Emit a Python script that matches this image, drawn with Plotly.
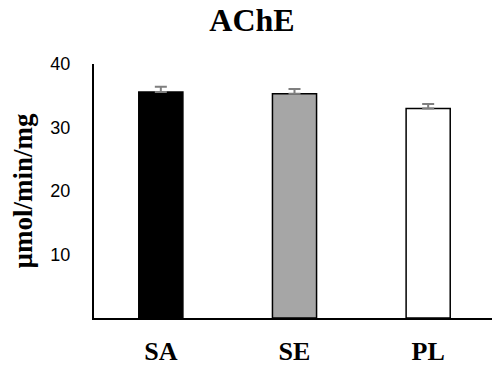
import plotly.graph_objects as go

categories = ["SA", "SE", "PL"]
values = [35.6, 35.3, 33.0]
errors = [0.8, 0.75, 0.7]
colors = ["#000000", "#a6a6a6", "#ffffff"]

fig = go.Figure()
fig.add_trace(go.Bar(
    x=categories, y=values,
    marker=dict(color=colors, line=dict(color="#000000", width=1.5)),
    width=0.33,
    error_y=dict(type="data", array=errors, arrayminus=[0, 0, 0], symmetric=False,
                 color="#7f7f7f", thickness=2, width=6),
))
fig.update_layout(
    width=492, height=357,
    margin=dict(l=86, r=5, t=56, b=47),
    plot_bgcolor="white", paper_bgcolor="white",
    showlegend=False,
    title=dict(text="<b>AChE</b>", x=0.496, xanchor="center", y=0.966, yanchor="middle",
               font=dict(family="Liberation Serif", size=32, color="black")),
    xaxis=dict(range=[-0.5, 2.5], showline=True, linecolor="black", linewidth=2,
               showgrid=False, ticks="", ticklabelstandoff=9, automargin=False,
               tickfont=dict(family="Liberation Serif", size=26, color="black"),
               tickprefix="<b>", ticksuffix="</b>"),
    yaxis=dict(range=[0, 40], tickvals=[10, 20, 30, 40], showline=True, linecolor="black",
               linewidth=2, showgrid=False, zeroline=False, ticks="", ticklabelstandoff=18,
               automargin=False,
               tickfont=dict(family="Liberation Sans", size=18, color="black"),
               title=dict(text="<b>µmol/min/mg</b>", standoff=22,
                          font=dict(family="Liberation Serif", size=27, color="black"))),
)
fig.write_html("out.html")
